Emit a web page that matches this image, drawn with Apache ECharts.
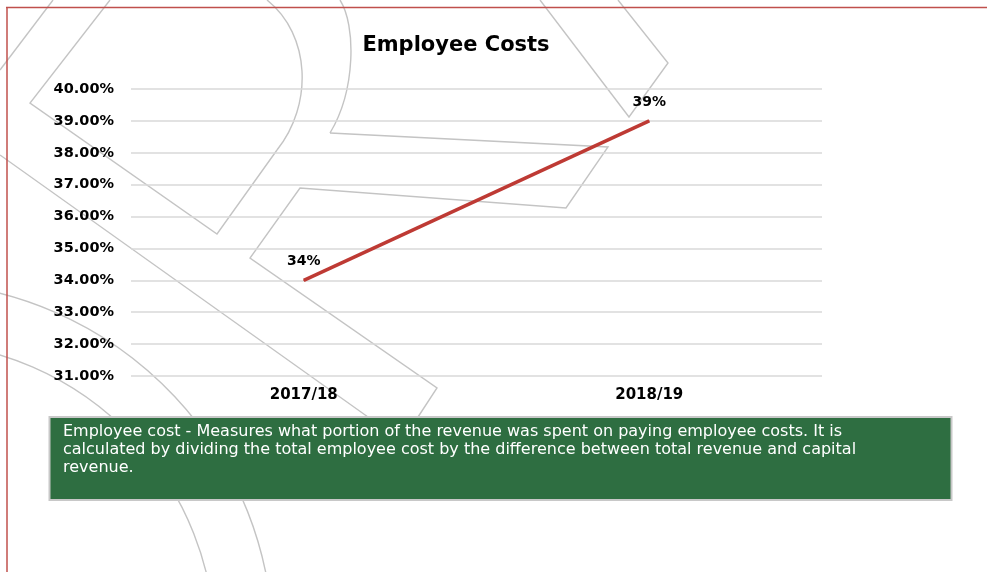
<!DOCTYPE html>
<html>
<head>
<meta charset="utf-8">
<script src="https://cdn.jsdelivr.net/npm/echarts@6/dist/echarts.min.js"></script>
<style>
  html, body { margin: 0; padding: 0; background: #fff; }
  #chart { width: 987px; height: 572px; }
</style>
</head>
<body>
<div id="chart"></div>
<script>
// Chart data
const years = ['2017/18', '2018/19'];
const employeeCostPct = [34, 39];
const axisMin = 31;
const axisMax = 40;
const axisStep = 1;
const chartTitle = 'Employee Costs';
const noteText = 'Employee cost - Measures what portion of the revenue was spent on paying employee costs. It is\ncalculated by dividing the total employee cost by the difference between total revenue and capital\nrevenue.';

const FONT = '"DejaVu Sans", Verdana, sans-serif';
const DECO = { stroke: '#C4C4C4', lineWidth: 1.4, fill: null };

// Faint watermark outline drawn behind the plot
function poly(points) {
  return { type: 'polyline', silent: true, z: -5, shape: { points: points }, style: DECO };
}
function curve(x1, y1, cpx1, cpy1, cpx2, cpy2, x2, y2) {
  return { type: 'bezierCurve', silent: true, z: -5,
    shape: { x1: x1, y1: y1, cpx1: cpx1, cpy1: cpy1, cpx2: cpx2, cpy2: cpy2, x2: x2, y2: y2 },
    style: DECO };
}
function arc(cx, cy, r, a0, a1) {
  return { type: 'arc', silent: true, z: -5,
    shape: { cx: cx, cy: cy, r: r, startAngle: a0, endAngle: a1, clockwise: true },
    style: DECO };
}

const decoration = [
  poly([[53, 0], [0, 70]]),
  poly([[110, 0], [30, 103], [217, 234], [277, 150]]),
  curve(277, 150, 313, 105, 311, 35, 267, 0),
  curve(340, 0, 356, 25, 356, 90, 330, 133),
  poly([[330, 133], [608, 147], [566, 208], [300, 188], [250, 258], [437, 388], [418, 417]]),
  poly([[0, 155], [368, 417]]),
  poly([[540, 0], [629, 117], [668, 63], [618, 0]]),
  arc(-90, 645, 363, -Math.PI * 0.62, 0),
  arc(-88, 645, 303, -Math.PI * 0.62, 0)
];

// Red frame along the top and left edges
const frame = [
  { type: 'line', silent: true, z: 50, shape: { x1: 6, y1: 7.5, x2: 987, y2: 7.5 },
    style: { stroke: '#C0504D', lineWidth: 1.5 } },
  { type: 'line', silent: true, z: 50, shape: { x1: 7, y1: 7, x2: 7, y2: 572 },
    style: { stroke: '#C0504D', lineWidth: 1.5 } }
];

// Explanatory note box under the chart
const note = [
  { type: 'rect', silent: true, z: 100,
    shape: { x: 49.5, y: 417, width: 902, height: 83 },
    style: { fill: '#2E6E41', stroke: '#C8C8C8', lineWidth: 2 } },
  { type: 'text', silent: true, z: 101, x: 63, y: 423,
    style: { text: noteText, fill: '#FFFFFF', font: '16px ' + FONT, lineHeight: 18,
      verticalAlign: 'top', align: 'left' } }
];

const chart = echarts.init(document.getElementById('chart'), null, { renderer: 'canvas' });

chart.setOption({
  backgroundColor: '#FFFFFF',
  animation: false,
  title: {
    text: chartTitle,
    left: 451,
    top: 30,
    textAlign: 'center',
    textStyle: { fontFamily: FONT, fontSize: 21, fontWeight: 'bold', color: '#000' }
  },
  grid: { left: 131, right: 165, top: 89, bottom: 196, containLabel: false },
  xAxis: {
    type: 'category',
    data: years,
    boundaryGap: true,
    axisLine: { show: false },
    axisTick: { show: false },
    axisLabel: { margin: 12, color: '#000', fontFamily: FONT, fontSize: 15, fontWeight: 'bold' }
  },
  yAxis: {
    type: 'value',
    min: axisMin,
    max: axisMax,
    interval: axisStep,
    axisLine: { show: false },
    axisTick: { show: false },
    splitLine: { lineStyle: { color: '#D9D9D9', width: 1.5 } },
    axisLabel: {
      margin: 17,
      color: '#000',
      fontFamily: FONT,
      fontSize: 14.5,
      fontWeight: 'bold',
      formatter: function (v) { return v.toFixed(2) + '%'; }
    }
  },
  series: [{
    type: 'line',
    data: employeeCostPct,
    symbol: 'circle',
    symbolSize: 1,
    showSymbol: true,
    lineStyle: { color: '#BE3A34', width: 3.5 },
    itemStyle: { color: '#BE3A34' },
    label: {
      show: true,
      position: 'top',
      distance: 11,
      color: '#000',
      fontFamily: FONT,
      fontSize: 14,
      fontWeight: 'bold',
      formatter: '{c}%'
    }
  }],
  graphic: decoration.concat(frame, note)
});
</script>
</body>
</html>
